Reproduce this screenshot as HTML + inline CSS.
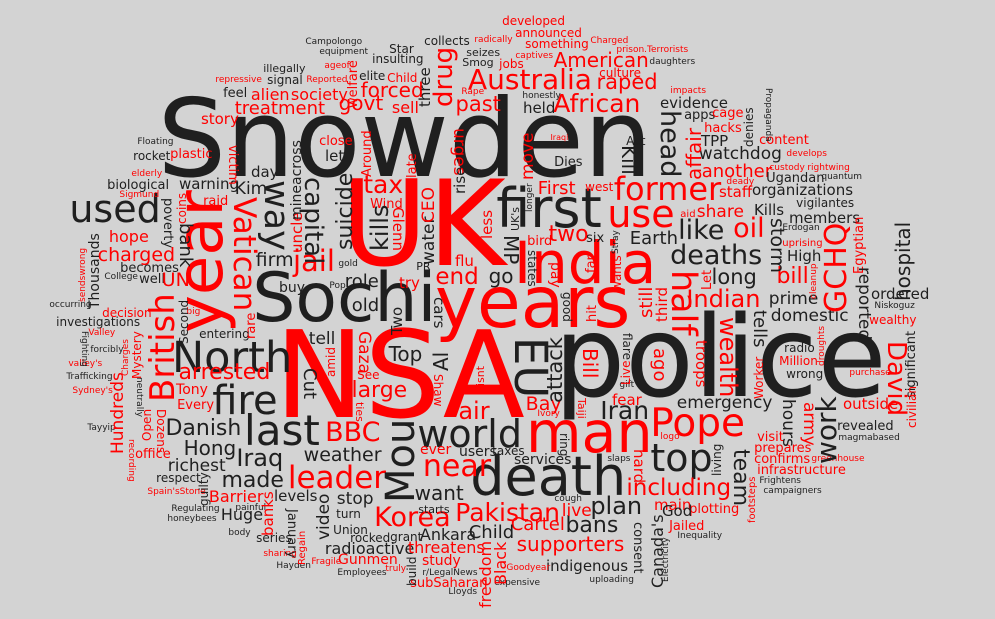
<!DOCTYPE html>
<html><head><meta charset="utf-8">
<style>
html,body{margin:0;padding:0;}
body{width:995px;height:619px;background:#d3d3d3;overflow:hidden;position:relative;}
#cloud{position:absolute;left:0;top:0;width:995px;height:619px;}
#cloud span{position:absolute;font-family:"DejaVu Sans","Liberation Sans",sans-serif;line-height:1;white-space:nowrap;transform-origin:0 0;}
</style></head>
<body>
<div id="cloud"></div>
<script>
// text | x | y | size | color(b/r) | orientation (h: x=left,y=baseline; d: top-down, u: bottom-up, x=box left, y=top)
const words = `Snowden|165|177|108|b|h
UK|349|267|119|r|h
NSA|283|419|120|r|h
police|562|397|112|b|h
Sochi|257|323|68|b|h
years|440|327|71|r|h
India|518|283|58|r|h
first|500|228|54|b|h
death|474|496|54|b|h
man|530|453|57|r|h
used|72|222|38|b|h
last|247|446|42|b|h
world|420|447|38|b|h
Pope|653|437|39|r|h
top|653|471|38|b|h
plan|592|514|24|b|h
North|175|373|43|b|h
fire|215|415|40|b|h
Australia|470|90|28|r|h
raped|598|90|21|r|h
American|555|67|20|r|h
African|555|112|25|r|h
former|616|200|32|r|h
use|610|227|38|r|h
like|680|240|27|b|h
oil|735|238|27|r|h
deaths|672|265|27|b|h
long|713|285|21|b|h
bill|778|285|22|r|h
Indian|688|307|24|r|h
prime|770|305|17|b|h
domestic|772|322|17|b|h
two|550|243|22|r|h
Earth|631|245|18|b|h
go|490|283|20|b|h
Iran|602|419|25|b|h
emergency|678|409|17|b|h
including|628|496|23|r|h
Pakistan|457|521|25|r|h
Korea|376|527|27|r|h
leader|290|489|31|r|h
near|425|477|30|r|h
made|223|489|22|b|h
BBC|327|442|27|r|h
Iraq|238|466|24|b|h
weather|305|462|19|b|h
Danish|167|437|22|b|h
arrested|180|381|22|r|h
tax|365|193|25|r|h
jail|295|272|29|r|h
end|437|285|23|r|h
firm|257|267|19|b|h
large|353|399|22|r|h
air|460|419|24|r|h
want|416|500|20|b|h
supporters|518|551|20|r|h
Cartel|512|531|18|r|h
bans|567|534|22|b|h
watchdog|700|160|17|b|h
another|703|178|18|r|h
organizations|753|196|15|b|h
share|698|218|17|r|h
First|539|195|18|r|h
treatment|236|115|18|r|h
forced|362|97|20|r|h
govt|340|110|20|r|h
past|457|112|21|r|h
charged|99|262|19|r|h
hope|110|243|16|r|h
Kim|236|195|17|b|h
warning|180|190|15|b|h
Top|390|361|20|b|h
Hong|185|455|20|b|h
richest|169|472|17|b|h
stop|338|505|17|b|h
radioactive|326|555|16|b|h
threatens|409|554|16|r|h
Ankara|421|541|16|b|h
Child|470|539|18|b|h
indigenous|547|572|15|b|h
role|346|288|18|b|h
old|353|312|18|b|h
alien|252|101|16|r|h
society|292|101|16|r|h
story|202|125|15|r|h
sell|393|114|16|r|h
held|524|114|15|b|h
evidence|661|109|15|b|h
Campolongo|306|46|9|b|h
equipment|320|56|9|b|h
illegally|264|72|11|b|h
ageof|325|70|9|r|h
Star|390|53|12|b|h
insulting|373|63|12|b|h
collects|425|45|12|b|h
radically|475|44|9|r|h
seizes|467|56|11|b|h
Smog|463|66|11|b|h
repressive|216|84|9|r|h
signal|268|84|12|b|h
Reported|307|84|9|r|h
elite|360|80|12|b|h
Child|388|82|12|r|h
feel|224|98|13|b|h
Rape|462|96|9|r|h
Floating|138|146|9|b|h
rocket|134|160|12|b|h
plastic|171|159|13|r|h
close|320|146|13|r|h
let|326|162|15|b|h
elderly|132|178|9|r|h
biological|108|190|13|b|h
day|252|178|15|b|h
Sigmund|120|199|9|r|h
raid|204|206|13|r|h
becomes|121|273|13|b|h
College|105|281|9|b|h
well|140|284|13|b|h
Wind|371|209|13|r|h
gold|339|268|9|b|h
PR|417|270|11|b|h
try|400|289|15|r|h
flu|456|267|15|r|h
buy|280|293|14|b|h
Pop|330|290|9|b|h
occurring|50|309|9|b|h
UN|163|287|19|r|h
developed|503|25|12|r|h
announced|516|37|12|r|h
something|526|48|12|r|h
Charged|591|45|9|r|h
prison.Terrorists|617|54|9|r|h
captives|516|60|9|r|h
jobs|500|68|12|r|h
daughters|650|66|9|b|h
culture|600|77|12|r|h
impacts|671|95|9|r|h
honestly|523|100|9|b|h
apps|685|120|13|b|h
cage|713|118|13|r|h
hacks|705|133|13|r|h
TPP|702|147|15|b|h
content|760|145|13|r|h
develops|787|158|9|r|h
Act|627|145|12|b|h
Dies|555|167|13|b|h
Iraqi|551|141|8|r|h
custody|770|172|9|r|h
rightwing|808|172|9|r|h
Ugandan|767|183|13|b|h
quantum|822|181|9|b|h
deady|727|186|9|r|h
west|586|191|12|r|h
staff|720|198|15|r|h
vigilantes|797|207|12|b|h
aid|681|218|10|r|h
Kills|755|216|15|b|h
members|790|224|15|b|h
Erdogan|783|232|9|b|h
six|587|243|13|b|h
bird|528|246|13|r|h
uprising|783|247|10|r|h
High|788|262|15|b|h
ordered|872|300|15|b|h
Niskoguz|875|310|9|b|h
wealthy|870|324|12|r|h
radio|785|352|12|b|h
Million|780|365|12|r|h
wrong|787|378|12|b|h
purchase|850|377|9|r|h
outside|844|410|15|r|h
revealed|838|431|13|b|h
magmabased|839|442|9|b|h
fear|613|406|15|r|h
Bay|527|411|19|r|h
Ivory|538|418|9|r|h
gift|620|389|9|b|h
logo|661|441|9|r|h
visit|758|442|13|r|h
prepares|755|453|13|r|h
confirms|755|464|13|r|h
greenhouse|812|463|9|r|h
infrastructure|758|475|13|r|h
Frightens|760|485|9|b|h
campaigners|764|495|9|b|h
services|515|465|14|b|h
taxes|493|455|12|b|h
slaps|608|463|9|b|h
cough|555|503|9|b|h
main|655|511|15|r|h
plotting|690|514|13|r|h
God|663|517|15|b|h
Jailed|670|531|13|r|h
Inequality|678|540|9|b|h
live|563|517|17|r|h
Goodyear|507|572|9|r|h
uploading|590|584|9|b|h
expensive|495|587|9|b|h
decision|103|317|12|r|h
investigations|57|326|12|b|h
big|187|316|9|r|h
Valley|89|337|9|r|h
forcibly|91|354|9|b|h
valley's|69|368|9|r|h
Trafficking|67|381|9|b|h
Sydney's|73|395|9|r|h
Tayyip|88|432|9|b|h
entering|200|338|12|b|h
Tony|177|395|14|r|h
Every|178|410|13|r|h
office|136|459|13|r|h
tell|310|345|17|b|h
See|358|379|12|r|h
ever|421|455|14|r|h
users|460|457|14|b|h
respect|157|482|12|b|h
Spain'sStone|148|496|9|r|h
Barrier|210|503|16|r|h
levels|275|502|15|b|h
starts|419|513|11|b|h
turn|337|518|12|b|h
Regulating|172|513|9|b|h
honeybees|168|523|9|b|h
painful|236|512|9|b|h
Huge|222|521|16|b|h
Union|334|534|12|b|h
body|229|537|9|b|h
series|257|542|12|b|h
rocked|351|542|12|b|h
grant|391|541|12|b|h
sharing|264|558|9|r|h
Gunmen|339|565|14|r|h
Fragile|312|566|9|r|h
study|423|566|14|r|h
Hayden|277|570|9|b|h
truly|386|573|9|r|h
Employees|338|577|9|b|h
r/LegalNews|423|577|9|b|h
subSaharan|411|588|13|r|h
Lloyds|449|596|9|b|h
Vatican|228|197|31|r|d
year|169|190|64|r|u
British|146|293|34|r|u
EU|508|337|45|b|d
Mou|381|419|40|b|u
head|656|110|27|b|d
Kill|619|145|20|b|d
affair|684|128|20|r|u
move|520|133|17|r|u
drug|431|47|26|r|u
three|418|67|15|b|u
welfare|347|60|13|r|u
way|258|180|35|b|d
capital|300|177|26|b|d
suicide|335|173|22|b|u
kills|368|205|24|b|u
Glenn|390|207|15|r|d
water|421|217|17|b|u
CEO|421|187|17|r|u
uncle|290|212|15|r|u
mineacross|290|140|14|b|u
bank|176|223|18|b|d
poverty|161|198|13|b|d
coins|176|193|12|r|u
Thousands|88|233|14|b|u
sendswrong|79|248|9|r|u
Hundreds|110|372|17|r|u
Mystery|131|331|12|r|u
Charges|122|339|9|r|u
Open|141|409|12|r|u
Dozens|155|409|12|r|d
recording|126|439|9|r|d
Fighting|79|331|9|b|d
neutrally|134|377|9|b|d
Second|178|300|12|b|u
rare|245|313|13|r|u
Gaza|355|331|17|r|d
amid|325|347|12|r|u
Cut|300|368|18|b|d
ties|354|402|11|r|d
Al|431|352|20|b|u
Shaw|432|374|12|r|d
isnt|475|366|11|r|u
cars|431|297|15|b|d
Two|390|307|15|b|u
video|316|494|17|b|u
banks|261|491|15|r|u
January|285|509|13|b|d
Regain|298|531|10|r|u
guilty|198|472|12|b|u
build|406|556|12|b|u
freedom|478|541|16|r|u
Black|493|542|16|r|u
consent|631|522|13|b|d
Canada's|650|514|16|b|u
Electricity|662|537|9|b|u
team|729|449|22|b|d
hours|779|399|17|b|d
army|800|402|17|r|d
work|813|396|28|b|u
David|883|341|26|r|d
significant|905|331|13|b|u
civilian|906|386|12|r|u
tells|750|310|18|b|d
wealth|716|317|24|r|d
troops|693|340|15|r|d
ago|650|348|18|r|d
Bill|580|348|20|r|d
attack|545|337|21|b|u
flare|621|333|12|b|d
Live|620|360|12|r|u
half|665|270|35|r|d
still|638|287|18|r|u
third|655|287|15|r|u
storm|767|218|19|b|d
GCHQ|822|223|30|r|u
Egyptian|853|217|13|r|u
hospital|893|222|20|b|u
reported|855|267|17|b|d
Propaganda|763|88|9|b|d
denies|743|107|12|b|u
cleanup|810|263|9|r|u
urges|450|128|17|r|d
rise|453|167|15|b|u
Around|361|130|13|r|u
late|406|153|13|r|u
victim|226|145|13|r|d
less|480|210|15|r|u
MP|501|235|20|b|d
UK's|510|207|11|b|u
longer|526|183|9|b|u
states|526|250|12|b|d
pay|548|262|14|r|d
far|585|255|13|r|u
wants|611|255|12|r|u
Stray|612|230|9|b|u
good|561|292|12|b|d
hit|586|305|13|r|u
Let|701|270|13|r|u
Worker|753|357|12|r|u
Taiji|576|398|11|r|d
ring|558|433|12|b|d
living|711|444|12|b|u
hard|631|449|15|r|d
footsteps|748|476|10|r|u
droughts|818|326|9|r|u`.split('\n');

const cloud = document.getElementById('cloud');
words.forEach(function(line){
  const p = line.split('|');
  const t = p[0], x = +p[1], y = +p[2], s = +p[3], c = p[4], o = p[5];
  const el = document.createElement('span');
  el.textContent = t;
  el.style.fontSize = s + 'px';
  el.style.color = c === 'r' ? '#ff0000' : '#1f1f1f';
  
  
  cloud.appendChild(el);
  if (o === 'h') {
    el.style.left = (x - 0.07*s) + 'px';
    el.style.top = (y - 0.846*s) + 'px';
  } else if (o === 'd') {
    el.style.left = (x + s) + 'px';
    el.style.top = y + 'px';
    el.style.transform = 'rotate(90deg)';
  } else {
    const w = el.offsetWidth;
    el.style.left = x + 'px';
    el.style.top = (y + w) + 'px';
    el.style.transform = 'rotate(-90deg)';
  }
});
</script>
</body></html>
